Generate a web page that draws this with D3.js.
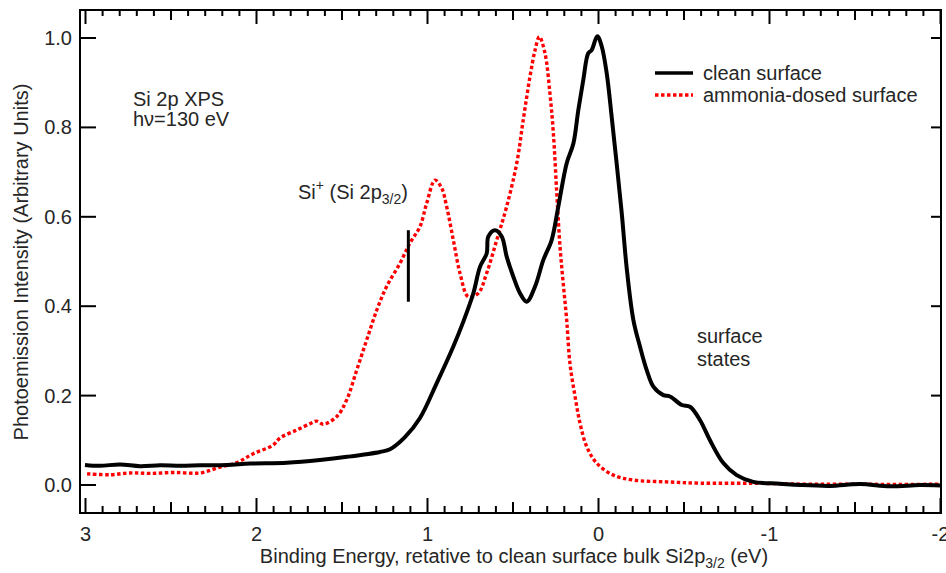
<!DOCTYPE html>
<html>
<head>
<meta charset="utf-8">
<script src="https://cdn.jsdelivr.net/npm/d3@7"></script>
<style>
  body { margin: 0; background: #fff; }
  text { font-family: "Liberation Sans", Arial, Helvetica, sans-serif; fill: #262626; }
</style>
</head>
<body>
<div id="chart"></div>
<script>
// binding energy (eV) and intensity for the clean surface
const cleanEnergy = [3.003, 2.915, 2.798, 2.681, 2.564, 2.447, 2.330, 2.173, 2.035, 1.822, 1.629, 1.471, 1.278, 1.219,
  1.132, 1.044, 0.946, 0.849, 0.791, 0.732, 0.693, 0.654, 0.644, 0.605, 0.566, 0.537, 0.498, 0.459, 0.420, 0.371,
  0.323, 0.274, 0.235, 0.186, 0.147, 0.118, 0.089, 0.060, 0.040, 0.007, -0.019, -0.048, -0.077, -0.106, -0.136,
  -0.165, -0.204, -0.243, -0.282, -0.321, -0.379, -0.418, -0.487, -0.535, -0.594, -0.652, -0.730, -0.808, -0.905,
  -1.061, -1.178, -1.354, -1.529, -1.705, -1.880, -1.997];
const cleanIntensity = [0.045, 0.043, 0.046, 0.042, 0.044, 0.043, 0.044, 0.045, 0.048, 0.050, 0.056, 0.063, 0.074, 0.080,
  0.107, 0.150, 0.228, 0.310, 0.365, 0.429, 0.488, 0.518, 0.556, 0.570, 0.556, 0.511, 0.466, 0.429, 0.410, 0.444,
  0.503, 0.548, 0.623, 0.720, 0.764, 0.839, 0.906, 0.966, 0.973, 1.004, 0.981, 0.921, 0.824, 0.720, 0.608,
  0.485, 0.369, 0.309, 0.257, 0.220, 0.201, 0.198, 0.179, 0.175, 0.145, 0.100, 0.049, 0.022, 0.007,
  0.003, 0.000, -0.002, 0.002, -0.003, 0.000, -0.001];

// ammonia-dosed surface
const dosedEnergy = [2.991, 2.857, 2.740, 2.623, 2.477, 2.330, 2.213, 2.116, 2.019, 1.904, 1.863, 1.765, 1.687, 1.648,
  1.609, 1.531, 1.473, 1.414, 1.356, 1.297, 1.239, 1.161, 1.103, 1.044, 1.005, 0.956, 0.917, 0.888, 0.849, 0.810,
  0.761, 0.703, 0.654, 0.595, 0.537, 0.478, 0.440, 0.401, 0.371, 0.346, 0.313, 0.284, 0.264, 0.244, 0.225, 0.206,
  0.186, 0.167, 0.137, 0.108, 0.069, 0.011, -0.087, -0.204, -0.399, -0.594, -0.904, -1.178, -1.529, -1.763, -1.997];
const dosedIntensity = [0.025, 0.023, 0.027, 0.026, 0.028, 0.027, 0.040, 0.050, 0.070, 0.089, 0.105, 0.123, 0.137, 0.143,
  0.136, 0.153, 0.190, 0.257, 0.324, 0.391, 0.444, 0.496, 0.541, 0.578, 0.630, 0.682, 0.664, 0.623, 0.548, 0.474,
  0.421, 0.429, 0.474, 0.548, 0.623, 0.720, 0.817, 0.913, 0.973, 1.003, 0.966, 0.876, 0.787, 0.653, 0.533, 0.450,
  0.369, 0.272, 0.198, 0.138, 0.086, 0.049, 0.022, 0.011, 0.007, 0.004, 0.004, 0.002, 0.002, 0.001, 0.002];

const xTicks = [3, 2, 1, 0, -1, -2];
const yTicks = [0.0, 0.2, 0.4, 0.6, 0.8, 1.0];
const markerEnergy = 1.112;
const markerRange = [0.41, 0.57];

const width = 946;
const height = 573;
const frameL = 80, frameR = 941, frameT = 10, frameB = 513;

const x = d3.scaleLinear().domain([3, -2]).range([85.5, 940.5]);
const y = d3.scaleLinear().domain([0, 1]).range([485, 38]);

const svg = d3.select("#chart").append("svg")
  .attr("width", width)
  .attr("height", height);

const clean = cleanEnergy.map((e, i) => ({ e, v: cleanIntensity[i] }));
const dosed = dosedEnergy.map((e, i) => ({ e, v: dosedIntensity[i] }));

const line = d3.line()
  .x(d => x(d.e))
  .y(d => y(d.v))
  .curve(d3.curveCatmullRom.alpha(0.5));

svg.append("path")
  .datum(dosed)
  .attr("d", line)
  .attr("fill", "none")
  .attr("stroke", "#ff0000")
  .attr("stroke-width", 3.4)
  .attr("stroke-dasharray", "3.5,2.5");

svg.append("path")
  .datum(clean)
  .attr("d", line)
  .attr("fill", "none")
  .attr("stroke", "#000")
  .attr("stroke-width", 4)
  .attr("stroke-linejoin", "round");

// Si+ marker
svg.append("line")
  .attr("x1", x(markerEnergy)).attr("x2", x(markerEnergy))
  .attr("y1", y(markerRange[0])).attr("y2", y(markerRange[1]))
  .attr("stroke", "#000")
  .attr("stroke-width", 3);

// frame
svg.append("rect")
  .attr("x", frameL).attr("y", frameT)
  .attr("width", frameR - frameL).attr("height", frameB - frameT)
  .attr("fill", "none")
  .attr("stroke", "#000")
  .attr("stroke-width", 2);

// x ticks, inward on bottom and top
const minor = d3.range(30, -21, -1).map(d => d / 10);
const tickLen = d => Math.abs(d - Math.round(d)) < 1e-6 ? 15 : (Math.abs(d * 2 - Math.round(d * 2)) < 1e-6 ? 11 : 7);

svg.append("g").selectAll("line")
  .data(minor)
  .join("line")
  .attr("x1", d => x(d)).attr("x2", d => x(d))
  .attr("y1", frameB).attr("y2", d => frameB - tickLen(d))
  .attr("stroke", "#000").attr("stroke-width", 2);

svg.append("g").selectAll("line")
  .data(minor)
  .join("line")
  .attr("x1", d => x(d)).attr("x2", d => x(d))
  .attr("y1", frameT).attr("y2", d => frameT + tickLen(d) - 1)
  .attr("stroke", "#000").attr("stroke-width", 2);

svg.append("g").selectAll("text")
  .data(xTicks)
  .join("text")
  .attr("x", d => x(d))
  .attr("y", 541)
  .attr("text-anchor", "middle")
  .attr("font-size", 20)
  .text(d => d);

// y ticks
svg.append("g").selectAll("line")
  .data(yTicks)
  .join("line")
  .attr("x1", frameL).attr("x2", frameL + 16)
  .attr("y1", d => y(d)).attr("y2", d => y(d))
  .attr("stroke", "#000").attr("stroke-width", 2);

svg.append("g").selectAll("line")
  .data(yTicks)
  .join("line")
  .attr("x1", frameR).attr("x2", frameR - 10)
  .attr("y1", d => y(d)).attr("y2", d => y(d))
  .attr("stroke", "#000").attr("stroke-width", 2);

svg.append("g").selectAll("text")
  .data(yTicks)
  .join("text")
  .attr("x", 72)
  .attr("y", d => y(d) + 7)
  .attr("text-anchor", "end")
  .attr("font-size", 20)
  .text(d => d.toFixed(1));

// axis titles
svg.append("text")
  .attr("transform", "translate(28,262) rotate(-90)")
  .attr("text-anchor", "middle")
  .attr("font-size", 20)
  .text("Photoemission Intensity (Arbitrary Units)");

const xl = svg.append("text")
  .attr("x", 514).attr("y", 563)
  .attr("text-anchor", "middle")
  .attr("font-size", 20);
xl.append("tspan").text("Binding Energy, retative to clean surface bulk Si2p");
xl.append("tspan").attr("font-size", 14).attr("dy", 5).text("3/2");
xl.append("tspan").attr("dy", -5).text(" (eV)");

// annotations
svg.append("text").attr("x", 133).attr("y", 106).attr("font-size", 20).text("Si 2p XPS");
svg.append("text").attr("x", 133).attr("y", 126).attr("font-size", 20).text("hν=130 eV");

const si = svg.append("text").attr("x", 298).attr("y", 199).attr("font-size", 20);
si.append("tspan").text("Si");
si.append("tspan").attr("font-size", 14).attr("dy", -9).text("+");
si.append("tspan").attr("dy", 9).text(" (Si 2p");
si.append("tspan").attr("font-size", 14).attr("dy", 5).text("3/2");
si.append("tspan").attr("dy", -5).text(")");

svg.append("text").attr("x", 697).attr("y", 343).attr("font-size", 20).text("surface");
svg.append("text").attr("x", 697).attr("y", 366).attr("font-size", 20).text("states");

// legend
const legend = [
  { label: "clean surface", color: "#000", dash: null, y: 73 },
  { label: "ammonia-dosed surface", color: "#ff0000", dash: "3.5,2.5", y: 95 }
];
const lg = svg.append("g").selectAll("g").data(legend).join("g");
lg.append("line")
  .attr("x1", 655).attr("x2", 693)
  .attr("y1", d => d.y).attr("y2", d => d.y)
  .attr("stroke", d => d.color)
  .attr("stroke-width", 3.5)
  .attr("stroke-dasharray", d => d.dash);
lg.append("text")
  .attr("x", 703).attr("y", d => d.y + 7)
  .attr("font-size", 20)
  .text(d => d.label);
</script>
</body>
</html>
